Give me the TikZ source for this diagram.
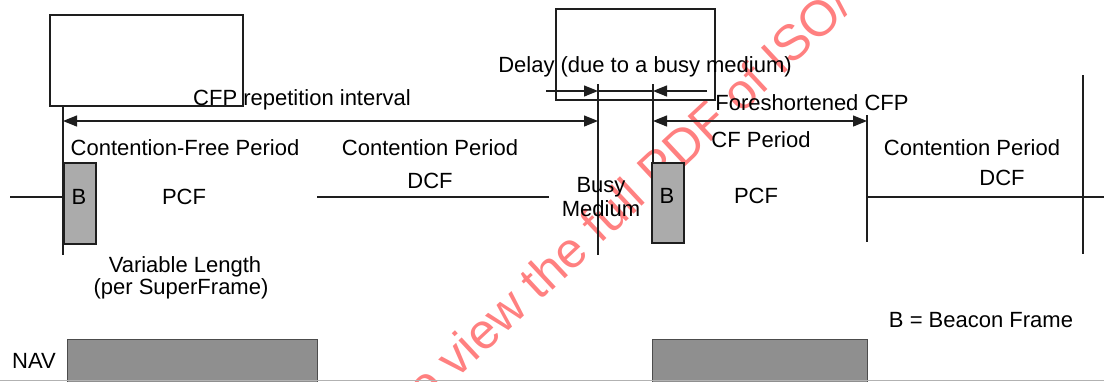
\documentclass[tikz,border=0pt]{standalone}
\usepackage{fontspec}
\setmainfont{Liberation Sans}
\usetikzlibrary{arrows.meta}
\definecolor{wm}{RGB}{255,128,128}
\definecolor{ink}{RGB}{30,30,30}
\begin{document}
\begin{tikzpicture}[x=1pt,y=-1pt,
  lbl/.style={font=\fontsize{22}{24}\selectfont, inner sep=0pt, anchor=base, text=black},
  ln/.style={line width=1.2pt, draw=ink},
  tip/.tip={Triangle[length=14pt,width=11pt]},
  arr/.style={ln, -tip},
  arrboth/.style={ln, tip-tip},
  frame/.style={draw=ink, line width=1.5pt, inner sep=0pt, anchor=north west},
  bcn/.style={draw=ink, line width=1.5pt, fill=black!33, inner sep=0pt, anchor=north west},
  nav/.style={draw=black!70, line width=1pt, fill=black!44, inner sep=0pt, anchor=north west}]
\useasboundingbox (0,0) rectangle (1104,381);
\clip (0,0) rectangle (1104,381);

% watermark
\node[rotate=43, anchor=base west, inner sep=0pt, text=wm, font=\fontsize{50}{54}\selectfont] (wmk) at (426,408) {o view the full PDF of ISO/};

% top frames
\node[frame, minimum width=193pt, minimum height=91pt] (tl) at (49,14) {};
\node[frame, minimum width=159pt, minimum height=91pt] (tr) at (555,8) {};

% beacon boxes
\node[bcn, minimum width=32pt, minimum height=81pt] (b1) at (63,162) {};
\node[bcn, minimum width=32pt, minimum height=80pt] (b2) at (651,162) {};

% NAV boxes
\node[nav, minimum width=250pt, minimum height=45pt] (n1) at (67,339) {};
\node[nav, minimum width=215pt, minimum height=45pt] (n2) at (652,339) {};

% coordinates
\coordinate (v1t) at (63,106);  \coordinate (v1b) at (63,255);
\coordinate (v2t) at (598,84);  \coordinate (v2b) at (598,255);
\coordinate (v3t) at (653,84);  \coordinate (v3b) at (653,162);
\coordinate (v4t) at (867,115); \coordinate (v4b) at (867,242);
\coordinate (v5t) at (1083,75); \coordinate (v5b) at (1083,254);
\coordinate (cfpL) at (63,121); \coordinate (cfpR) at (598,121);
\coordinate (fsL) at (653,121); \coordinate (fsR) at (867,121);
\coordinate (dlA) at (546,91); \coordinate (dlB) at (598,91);
\coordinate (dlC) at (653,91); \coordinate (dlD) at (707,91);
\coordinate (t0) at (10,197); \coordinate (t1) at (63,197);
\coordinate (t2) at (317,197); \coordinate (t3) at (549,197);
\coordinate (t4) at (867,197); \coordinate (t5) at (1104,197);
\coordinate (g0) at (0,380); \coordinate (g1) at (1104,380);

% lines
\draw[ln] (v1t) -- (v1b);
\draw[ln] (v2t) -- (v2b);
\draw[ln] (v3t) -- (v3b);
\draw[ln] (v4t) -- (v4b);
\draw[ln] (v5t) -- (v5b);
\draw[ln] (t0) -- (t1);
\draw[ln] (t2) -- (t3);
\draw[ln] (t4) -- (t5);
\draw[draw=black!30, line width=1pt] (g0) -- (g1);

% arrows
\draw[arrboth] (cfpL) -- (cfpR);
\draw[arrboth] (fsL) -- (fsR);
\draw[arr] (dlA) -- (dlB);
\draw[arr] (dlD) -- (dlC);
\draw[ln] (dlB) -- (dlC);

% labels
\node[lbl] (cfp) at (302,105) {CFP repetition interval};
\node[lbl] (dly) at (645,72) {Delay (due to a busy medium)};
\node[lbl] (fsc) at (812,110) {Foreshortened CFP};
\node[lbl] (cfpd) at (185,155) {Contention-Free Period};
\node[lbl] (cp1) at (430,155) {Contention Period};
\node[lbl] (cfper) at (761,147) {CF Period};
\node[lbl] (cp2) at (972,155) {Contention Period};
\node[lbl] (dcf1) at (430,188) {DCF};
\node[lbl] (dcf2) at (1002,185) {DCF};
\node[lbl] (pcf1) at (184,204) {PCF};
\node[lbl] (pcf2) at (756,203) {PCF};
\node[lbl] (bb1) at (79,204) {B};
\node[lbl] (bb2) at (667,203) {B};
\node[lbl] (busy) at (601,192) {Busy};
\node[lbl] (med) at (601,216) {Medium};
\node[lbl] (var) at (185,272) {Variable Length};
\node[lbl] (per) at (181,294) {(per SuperFrame)};
\node[lbl] (bfr) at (981,327) {B = Beacon Frame};
\node[lbl] (navl) at (34,368) {NAV};
\end{tikzpicture}
\end{document}
